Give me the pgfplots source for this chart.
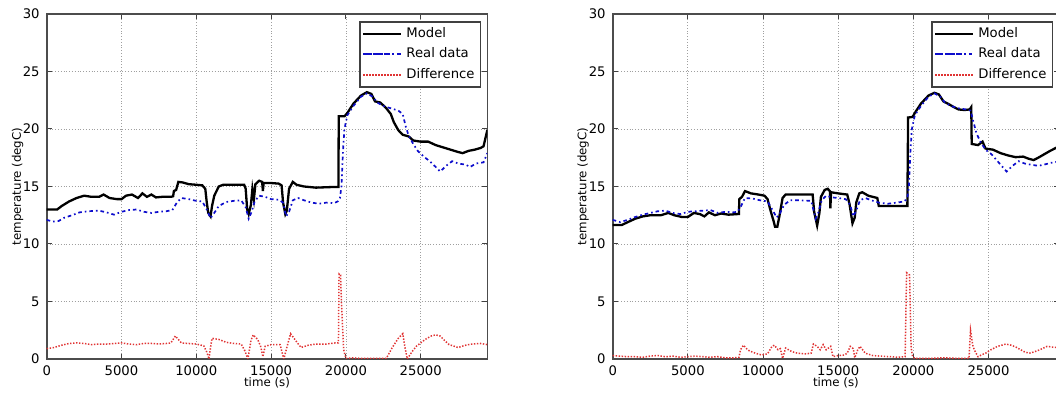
\documentclass[border=0pt]{standalone}
\usepackage{fontspec}
\setmainfont{DejaVu Sans}
\usepackage{pgfplots}
\pgfplotsset{compat=1.18}

\definecolor{mblue}{rgb}{0.05,0.05,0.8}
\definecolor{mred}{rgb}{0.88,0.2,0.2}

\pgfplotsset{
  tplot/.style={
    scale only axis, height=172.5pt, ymin=0, ymax=30, xmin=0,
    xtick={0,5000,10000,15000,20000,25000}, ytick={0,5,10,15,20,25,30},
    grid=major, grid style={gray!75, densely dotted, line width=0.4pt},
    axis line style={black!70, line width=0.8pt},
    tick style={black!75, line width=0.5pt}, major tick length=2.5pt,
    tick label style={font=\fontsize{6.6}{7.5}\selectfont},
    /pgf/number format/assume math mode=true,
    scaled x ticks=false,
    xticklabel style={/pgf/number format/1000 sep={}},
    xlabel={time (s)}, ylabel={temperature (degC)},
    label style={font=\fontsize{5.9}{7}\selectfont},
    xlabel style={at={(axis description cs:0.5,-0.07)}, anchor=center},
    ylabel style={at={(axis description cs:-0.066,0.5)}, anchor=center},
    legend style={at={(1,1)}, anchor=north east, xshift=-3pt, yshift=-3.5pt,
      draw=black!75, line width=0.8pt, font=\fontsize{6.6}{7.5}\selectfont,
      inner xsep=1pt, inner ysep=0.8pt, row sep=-0.3pt},
    legend cell align=left,
    legend image code/.code={\path (0pt,0pt) -- (19pt,0pt);\draw[##1] (1.5pt,0pt) -- (13pt,0pt);},
  },
  model/.style={black, line width=1.15pt},
  real/.style={mblue, line width=0.85pt, dash pattern=on 1.8pt off 1.5pt on 0.8pt off 1.5pt},
  diff/.style={mred, line width=0.75pt, dash pattern=on 0.7pt off 0.8pt},
}

\begin{document}
\begin{tikzpicture}
% ---------------- left plot ----------------
\begin{axis}[tplot, at={(23.35pt,18.5pt)}, anchor=south west, width=220.3pt, xmax=29450]
\addplot[model] coordinates {
(0,13.0) (300,13.0) (700,13.0) (1000,13.3) (1500,13.7) (2000,14.0) (2500,14.2) (3000,14.1)
(3500,14.1) (3800,14.3) (4200,14.0) (4700,13.9) (5000,13.9) (5300,14.2) (5700,14.3) (6100,14.0)
(6400,14.4) (6700,14.1) (7000,14.3) (7300,14.05) (7700,14.1) (8300,14.1) (8450,14.15) (8500,14.6)
(8650,14.7) (8800,15.4) (9100,15.35) (9500,15.2) (10000,15.15) (10400,15.1) (10600,14.8) (10700,13.6)
(10800,12.7) (10950,12.4) (11050,13.3) (11200,14.2) (11500,15.0) (11800,15.15) (12500,15.15) (13200,15.15)
(13300,14.8) (13400,13.0) (13500,12.6) (13650,13.4) (13750,14.8) (13850,13.9) (13950,15.2) (14200,15.5)
(14400,15.4) (14450,14.6) (14500,15.3) (15000,15.3) (15500,15.25) (15700,15.1) (15800,13.6) (15950,12.6)
(16050,12.9) (16200,14.8) (16450,15.4) (16700,15.15) (17200,15.0) (18000,14.9) (19000,14.95) (19500,14.95)
(19520,21.1) (19900,21.1) (20100,21.4) (20500,22.2) (21000,22.9) (21400,23.2) (21700,23.05) (21950,22.4)
(22300,22.3) (22700,21.8) (23000,21.3) (23200,20.6) (23500,19.9) (23800,19.5) (24200,19.35) (24500,19.0)
(25000,18.9) (25500,18.9) (26000,18.6) (26500,18.4) (27000,18.2) (27500,18.0) (27800,17.9) (28200,18.1)
(28600,18.2) (29000,18.35) (29200,18.5) (29450,19.9)
};
\addlegendentry{Model}
\addplot[real] coordinates {
(0,12.1) (400,11.95) (800,12.0) (1200,12.3) (1700,12.5) (2200,12.75) (2800,12.85) (3500,12.9)
(4000,12.75) (4500,12.55) (5000,12.8) (5500,12.95) (6000,13.0) (6500,12.8) (7000,12.7) (7500,12.8)
(8000,12.85) (8400,12.95) (8700,13.6) (9000,14.0) (9500,13.9) (10000,13.75) (10400,13.7) (10700,13.0)
(10950,12.25) (11200,12.7) (11500,13.3) (12000,13.65) (12500,13.75) (13000,13.8) (13300,13.2) (13500,12.2)
(13700,12.8) (13900,13.7) (14200,14.2) (14600,14.1) (15000,13.9) (15500,13.85) (15800,13.6) (16000,12.4)
(16200,12.8) (16450,13.8) (16800,14.0) (17200,13.8) (17700,13.6) (18200,13.5) (18700,13.6) (19200,13.55)
(19450,13.7) (19600,14.0) (19700,15.0) (19800,18.0) (19900,20.0) (20100,21.2) (20500,22.0) (21000,22.8)
(21400,23.1) (21800,22.8) (22100,22.3) (22500,22.0) (23000,21.8) (23500,21.6) (23800,21.3) (24000,20.2)
(24200,19.4) (24500,18.7) (24800,18.1) (25200,17.6) (25600,17.2) (26000,16.7) (26300,16.3) (26700,16.8)
(27100,17.2) (27500,17.0) (28000,16.9) (28300,16.7) (28700,17.0) (29200,17.1) (29450,17.9)
};
\addlegendentry{Real data}
\addplot[diff] coordinates {
(0,0.9) (500,1.0) (1000,1.2) (1500,1.35) (2000,1.4) (2500,1.35) (3000,1.25) (3500,1.3)
(4000,1.3) (4500,1.35) (5000,1.4) (5500,1.3) (6000,1.25) (6500,1.35) (7000,1.35) (7500,1.3)
(8000,1.35) (8300,1.4) (8600,2.0) (8800,1.7) (9000,1.4) (9500,1.35) (10000,1.3) (10500,1.15)
(10700,0.6) (10850,0.0) (10950,1.0) (11050,1.8) (11500,1.7) (12000,1.45) (12500,1.35) (13000,1.3)
(13250,0.7) (13450,0.0) (13650,1.6) (13800,2.1) (14100,1.7) (14300,1.1) (14450,0.2) (14600,1.1)
(15000,1.25) (15600,1.25) (15850,0.0) (16050,1.0) (16300,2.2) (16700,1.5) (17000,1.0) (17500,1.2)
(18000,1.3) (18700,1.3) (19300,1.4) (19500,1.4) (19540,7.4) (19640,7.3) (19700,5.0) (19850,0.8)
(20000,0.05) (20500,0.1) (21000,0.05) (22000,0.05) (22700,0.05) (23100,1.0) (23500,1.8) (23800,2.2)
(23950,1.0) (24100,0.0) (24400,0.6) (24700,1.1) (25000,1.4) (25300,1.7) (25700,2.0) (26000,2.1)
(26300,2.0) (26600,1.6) (26900,1.25) (27500,1.0) (28000,1.2) (28400,1.3) (29000,1.35) (29450,1.25)
};
\addlegendentry{Difference}
\end{axis}
% ---------------- right plot ----------------
\begin{axis}[tplot, at={(306.35pt,18.5pt)}, anchor=south west, width=223.25pt, xmax=29700]
\addplot[model] coordinates {
(0,11.65) (600,11.65) (1000,11.9) (1500,12.2) (2000,12.4) (2500,12.5) (3200,12.5) (3700,12.7)
(4100,12.5) (4600,12.35) (5000,12.35) (5400,12.7) (5800,12.6) (6100,12.4) (6400,12.75) (6800,12.5)
(7200,12.65) (7700,12.55) (8300,12.6) (8400,12.6) (8420,13.9) (8600,14.1) (8800,14.6) (9200,14.4)
(9700,14.3) (10100,14.2) (10300,13.9) (10500,12.9) (10700,12.0) (10800,11.5) (10950,11.5) (11100,12.5)
(11300,14.0) (11500,14.3) (12500,14.3) (13300,14.3) (13400,12.8) (13600,11.6) (13750,12.7) (13850,14.1)
(14100,14.7) (14300,14.8) (14450,14.6) (14480,13.1) (14520,14.5) (15000,14.4) (15600,14.3) (15750,13.5)
(15950,11.8) (16100,12.3) (16200,13.6) (16400,14.4) (16600,14.5) (17000,14.2) (17600,14.0) (17700,13.3)
(18500,13.3) (19000,13.3) (19600,13.3) (19650,21.0) (19950,21.05) (20100,21.4) (20500,22.2) (21000,22.9)
(21400,23.15) (21700,23.0) (22000,22.4) (22300,22.2) (22700,21.9) (23000,21.7) (23400,21.65) (23750,21.7)
(23850,21.9) (23880,18.7) (24300,18.6) (24600,18.9) (24800,18.3) (25300,18.2) (25800,17.9) (26300,17.7)
(26800,17.55) (27300,17.6) (27700,17.4) (28000,17.3) (28300,17.5) (28700,17.8) (29100,18.1) (29400,18.3)
(29700,18.5)
};
\addlegendentry{Model}
\addplot[real] coordinates {
(0,12.1) (500,11.9) (1000,12.1) (1500,12.35) (2000,12.55) (2500,12.7) (3000,12.85) (3500,12.9)
(4000,12.7) (4500,12.6) (5000,12.8) (5500,12.85) (6000,12.9) (6500,12.95) (7000,12.7) (7500,12.8)
(8000,12.75) (8300,12.8) (8500,13.2) (8800,14.0) (9300,13.95) (9800,13.8) (10300,13.7) (10700,12.8)
(10900,12.3) (11100,12.6) (11400,13.4) (11800,13.8) (12500,13.8) (13200,13.75) (13500,12.2) (13700,12.8)
(13900,13.8) (14200,14.2) (14600,14.05) (15000,14.0) (15500,13.9) (15800,13.4) (16000,12.4) (16200,12.9)
(16450,13.8) (16800,14.0) (17200,13.8) (17700,13.6) (18300,13.5) (18900,13.6) (19400,13.7) (19600,14.0)
(19700,15.0) (19800,18.0) (19900,20.0) (20100,21.2) (20500,22.0) (21000,22.8) (21400,23.1) (21800,22.8)
(22100,22.3) (22500,22.0) (23000,21.8) (23500,21.7) (23800,21.6) (24000,20.6) (24200,19.6) (24500,18.8)
(24800,18.2) (25200,17.8) (25600,17.2) (26000,16.6) (26200,16.3) (26600,16.8) (27000,17.2) (27400,17.0)
(27800,16.9) (28300,16.8) (28700,16.9) (29100,17.05) (29400,17.1) (29700,17.2)
};
\addlegendentry{Real data}
\addplot[diff] coordinates {
(0,0.3) (500,0.25) (1000,0.2) (1500,0.2) (2000,0.15) (2500,0.25) (3000,0.3) (3500,0.2)
(4000,0.25) (4500,0.15) (5000,0.2) (5500,0.25) (6000,0.2) (6500,0.15) (7000,0.2) (7500,0.1)
(8000,0.1) (8400,0.15) (8500,0.8) (8700,1.2) (8900,0.9) (9100,0.7) (9500,0.5) (9900,0.35)
(10300,0.45) (10600,1.1) (10750,1.2) (11000,0.8) (11150,0.9) (11300,0.05) (11500,0.95) (11900,0.65)
(12300,0.5) (12800,0.45) (13200,0.5) (13350,1.3) (13600,1.1) (13800,0.8) (14000,1.25) (14200,0.8)
(14500,1.1) (14650,0.2) (15000,0.3) (15400,0.35) (15600,0.5) (15800,1.1) (16000,0.9) (16100,0.1)
(16300,0.8) (16450,1.1) (16800,0.5) (17300,0.3) (17800,0.25) (18500,0.2) (19000,0.15) (19450,0.2)
(19550,7.5) (19750,7.3) (19850,1.0) (19950,0.2) (20100,0.05) (21000,0.05) (22000,0.1) (23000,0.05)
(23700,0.05) (23800,2.5) (23950,1.2) (24050,0.8) (24300,0.2) (24600,0.4) (24800,0.5) (25150,0.8)
(25600,1.1) (26150,1.3) (26500,1.2) (26800,1.05) (27350,0.65) (27700,0.5) (28000,0.6) (28400,0.8)
(28900,1.1) (29400,1.0) (29700,1.0)
};
\addlegendentry{Difference}
\end{axis}
\pgfresetboundingbox
\path[use as bounding box] (0pt,0pt) rectangle (528pt,198pt);
\end{tikzpicture}
\end{document}
